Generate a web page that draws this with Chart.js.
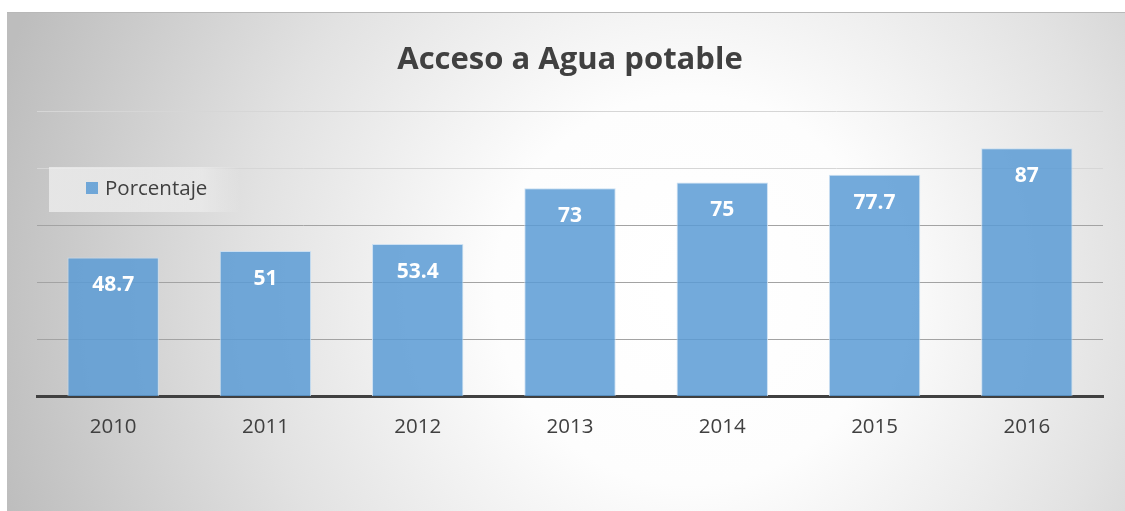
<!DOCTYPE html>
<html>
<head>
<meta charset="utf-8">
<script src="https://cdn.jsdelivr.net/npm/chart.js@4.4.1/dist/chart.umd.min.js"></script>
<style>
  html, body { margin: 0; padding: 0; background: #fff; }
  #wrap { width: 1125px; height: 511px; position: relative; }
</style>
</head>
<body>
<div id="wrap"><canvas id="chart" width="1125" height="511"></canvas></div>
<script>
const years = ['2010', '2011', '2012', '2013', '2014', '2015', '2016'];
const porcentaje = [48.7, 51, 53.4, 73, 75, 77.7, 87];
const seriesName = 'Porcentaje';
const chartTitle = 'Acceso a Agua potable';

const FONT = "'Open Sans', 'Noto Sans', sans-serif";
const BAR_FILL = 'rgba(91, 155, 213, 0.85)';

// gradient frame behind everything, like the office chart style
const frameBg = {
    id: 'frameBg',
    beforeDraw(chart) {
        const ctx = chart.ctx;
        const x0 = 7, y0 = 12, x1 = chart.width, y1 = chart.height;
        ctx.save();
        const g = ctx.createRadialGradient(690, 290, 20, 690, 290, 720);
        g.addColorStop(0, '#ffffff');
        g.addColorStop(0.25, '#fdfdfd');
        g.addColorStop(0.6, '#e2e2e2');
        g.addColorStop(1, '#bdbdbd');
        ctx.fillStyle = g;
        ctx.fillRect(x0, y0, x1 - x0, y1 - y0);
        ctx.fillStyle = '#b8b8b8';
        ctx.fillRect(x0, y0, x1 - x0, 1);
        ctx.restore();
    }
};

// legend box sitting on top of the plot, and the white value labels
const overlay = {
    id: 'overlay',
    afterDatasetsDraw(chart) {
        const ctx = chart.ctx;
        const meta = chart.getDatasetMeta(0);
        ctx.save();
        ctx.fillStyle = '#ffffff';
        ctx.font = 'bold 21px ' + FONT;
        ctx.textAlign = 'center';
        ctx.textBaseline = 'middle';
        meta.data.forEach((bar, i) => {
            ctx.fillText(String(porcentaje[i]), bar.x, bar.y + 28);
        });
        ctx.restore();
    },
    afterDraw(chart) {
        const ctx = chart.ctx;
        ctx.save();
        const lg = ctx.createLinearGradient(49, 0, 240, 0);
        lg.addColorStop(0, 'rgba(240,240,240,0.75)');
        lg.addColorStop(0.8, 'rgba(240,240,240,0.6)');
        lg.addColorStop(1, 'rgba(240,240,240,0)');
        ctx.fillStyle = lg;
        ctx.fillRect(49, 167, 190, 45);
        ctx.fillStyle = BAR_FILL;
        ctx.fillRect(86, 182, 12, 12);
        ctx.fillStyle = '#404040';
        ctx.font = '20.5px ' + FONT;
        ctx.textAlign = 'left';
        ctx.textBaseline = 'middle';
        ctx.fillText(seriesName, 105, 189);
        ctx.restore();
    }
};

new Chart(document.getElementById('chart'), {
    type: 'bar',
    data: {
        labels: years,
        datasets: [{
            label: seriesName,
            data: porcentaje,
            backgroundColor: BAR_FILL,
            borderColor: 'rgba(200, 222, 242, 0.9)',
            borderWidth: 1,
            categoryPercentage: 1,
            barPercentage: 0.6
        }]
    },
    options: {
        responsive: false,
        animation: false,
        layout: {
            padding: { left: 37, right: 22, top: 0, bottom: 54 }
        },
        scales: {
            x: {
                grid: { display: false, drawTicks: false },
                border: { color: '#404040', width: 3 },
                ticks: {
                    color: '#404040',
                    font: { size: 20.5, family: FONT },
                    padding: 18
                }
            },
            y: {
                min: 0,
                max: 100,
                ticks: { display: false, stepSize: 20 },
                border: { display: false },
                grid: {
                    drawTicks: false,
                    // upper lines are faint, lower ones darker
                    color: ctx => (ctx.tick && ctx.tick.value >= 80) ? '#d6d6d6' : '#a3a3a3',
                    lineWidth: 1
                }
            }
        },
        plugins: {
            legend: { display: false },
            tooltip: { enabled: false },
            title: {
                display: true,
                text: chartTitle,
                color: '#404040',
                font: { size: 31, weight: 'bold', family: FONT },
                padding: { top: 42, bottom: 32 }
            }
        }
    },
    plugins: [frameBg, overlay]
});
</script>
</body>
</html>
